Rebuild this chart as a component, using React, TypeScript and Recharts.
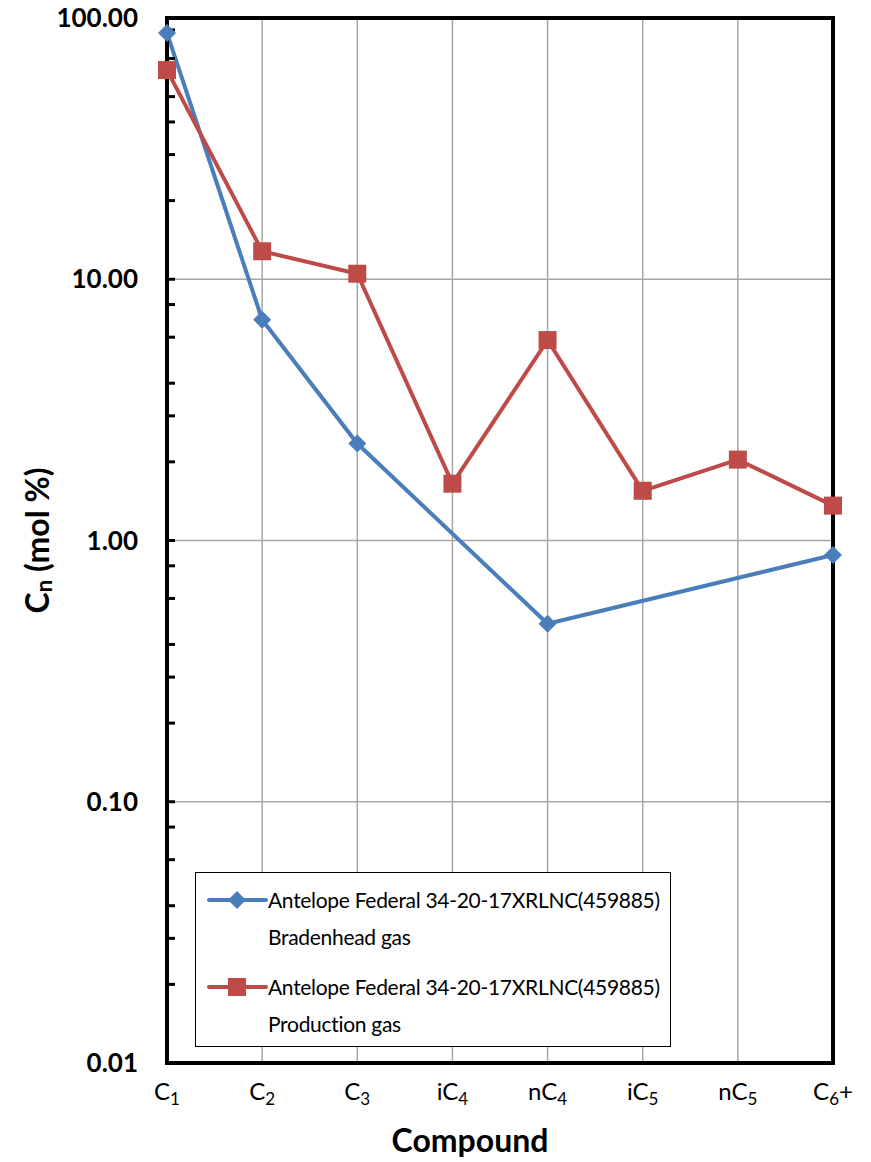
import React from "react";
import { LineChart, Line, XAxis, YAxis, CartesianGrid, Legend, ReferenceArea } from "recharts";

const compounds = ["C1", "C2", "C3", "iC4", "nC4", "iC5", "nC5", "C6+"];
const bradenhead = [87.6, 7.0, 2.35, null, 0.48, null, null, 0.88];
const production = [63.2, 12.8, 10.5, 1.65, 5.85, 1.55, 2.04, 1.36];
const seriesNames = [
  "Antelope Federal 34-20-17XRLNC(459885)\nBradenhead gas",
  "Antelope Federal 34-20-17XRLNC(459885)\nProduction gas",
];
const majorTicks = [0.01, 0.1, 1, 10, 100];
const minorTicks = majorTicks.slice(0, 4).flatMap((d) => [1, 2, 3, 4, 5, 6, 7, 8, 9].map((m) => +(d * m).toPrecision(3)));

const BLUE = "#4a7ebb";
const RED = "#be4b48";
const FONT = "Lato, 'Noto Sans', sans-serif";

const data = compounds.map((c, i) => ({ name: c, brad: bradenhead[i], prod: production[i] }));

function Diamond({ cx, cy, fill, size = 9 }: any) {
  if (cx == null || cy == null) return <g />;
  const r = size;
  return <path d={`M${cx},${cy - r}L${cx + r},${cy}L${cx},${cy + r}L${cx - r},${cy}Z`} fill={fill} />;
}

function Square({ cx, cy, fill, size = 9 }: any) {
  if (cx == null || cy == null) return <g />;
  const r = size;
  return <rect x={cx - r} y={cy - r} width={r * 2} height={r * 2} fill={fill} />;
}

function XTick({ x, y, payload }: any) {
  const m = /^(\D*C)(\d)(.*)$/.exec(payload.value) || ["", payload.value, "", ""];
  return (
    <text x={x} y={y + 35} textAnchor="middle" fontFamily={FONT} fontSize={24} fill="#000">
      {m[1]}
      <tspan fontSize={17} dy={5}>{m[2]}</tspan>
      {m[3] ? <tspan dy={-5}>{m[3]}</tspan> : null}
    </text>
  );
}

function YTitle({ viewBox }: any) {
  const x = viewBox.x + 36;
  const y = viewBox.y + viewBox.height / 2;
  return (
    <text x={x} y={y} transform={`rotate(-90 ${x} ${y})`} textAnchor="middle" dominantBaseline="central"
      fontFamily={FONT} fontSize={32} fontWeight={700} fill="#000">
      C<tspan fontSize={22} dy={7}>n</tspan>
      <tspan dy={-7}> (mol %)</tspan>
    </text>
  );
}

function XTitle({ viewBox }: any) {
  return (
    <text x={viewBox.x + viewBox.width / 2 - 30} y={viewBox.y + 89} textAnchor="middle"
      fontFamily={FONT} fontSize={32} fontWeight={700} fill="#000">
      Compound
    </text>
  );
}

function LegendBox() {
  const items = [
    { name: seriesNames[0], color: BLUE, shape: "diamond" },
    { name: seriesNames[1], color: RED, shape: "square" },
  ];
  return (
    <div style={{ border: "1.5px solid #000", background: "#fff", padding: "8px 4px 6px 10px", fontFamily: FONT, fontSize: 21, lineHeight: "37px", color: "#000", boxSizing: "border-box", width: 476, height: 175 }}>
      {items.map((it, i) => (
        <div key={i} style={{ display: "flex", alignItems: "flex-start", marginBottom: i === 0 ? 13 : 0 }}>
          <svg width={62} height={37} style={{ flex: "none" }}>
            <line x1={3} y1={19} x2={60} y2={19} stroke={it.color} strokeWidth={4} strokeLinecap="round" />
            {it.shape === "diamond" ? <Diamond cx={31} cy={19} fill={it.color} size={9} /> : <Square cx={31} cy={19} fill={it.color} size={9} />}
          </svg>
          <div style={{ whiteSpace: "pre", letterSpacing: -0.3 }}>{it.name}</div>
        </div>
      ))}
    </div>
  );
}

export default function App() {
  return (
    <div style={{ position: "absolute", left: 0, top: 0, width: 871, height: 1162, background: "#fff" }}>
      <LineChart width={871} height={1162} data={data} margin={{ top: 18, right: 38, bottom: 0, left: 0 }}>
        <CartesianGrid stroke="#a6a6a6" strokeWidth={1.5} />
        <XAxis dataKey="name" height={99} axisLine={{ stroke: "#000", strokeWidth: 4 }} tickLine={false}
          tickSize={0} tick={<XTick />} interval={0} label={<XTitle />} />
        <YAxis scale="log" domain={[0.01, 100]} ticks={majorTicks} allowDataOverflow width={167}
          tickFormatter={(v: number) => v.toFixed(2)} tickLine={false} tickSize={0} tickMargin={29}
          axisLine={{ stroke: "#000", strokeWidth: 4 }}
          tick={{ fontFamily: FONT, fontSize: 26, fontWeight: 700, fill: "#000" }} label={<YTitle />} />
        <YAxis yAxisId="minor" scale="log" domain={[0.01, 100]} ticks={minorTicks} allowDataOverflow mirror width={10}
          axisLine={false} tickLine={{ stroke: "#000", strokeWidth: 3 }} tickSize={8} tick={() => <g />} />
        <ReferenceArea x1="C1" x2="C6+" y1={0.01} y2={100} fill="none" stroke="#000" strokeWidth={4} ifOverflow="visible" />
        <Legend layout="vertical" align="center" verticalAlign="middle" content={<LegendBox />}
          wrapperStyle={{ position: "absolute", left: 195, top: 872, width: 476 }} />
        <Line dataKey="brad" name={seriesNames[0]} stroke={BLUE} strokeWidth={4} connectNulls
          dot={(p: any) => <Diamond key={p.index} cx={p.cx} cy={p.cy} fill={BLUE} size={9} />} isAnimationActive={false} />
        <Line dataKey="prod" name={seriesNames[1]} stroke={RED} strokeWidth={4}
          dot={(p: any) => <Square key={p.index} cx={p.cx} cy={p.cy} fill={RED} size={9} />} isAnimationActive={false} />
      </LineChart>
    </div>
  );
}
